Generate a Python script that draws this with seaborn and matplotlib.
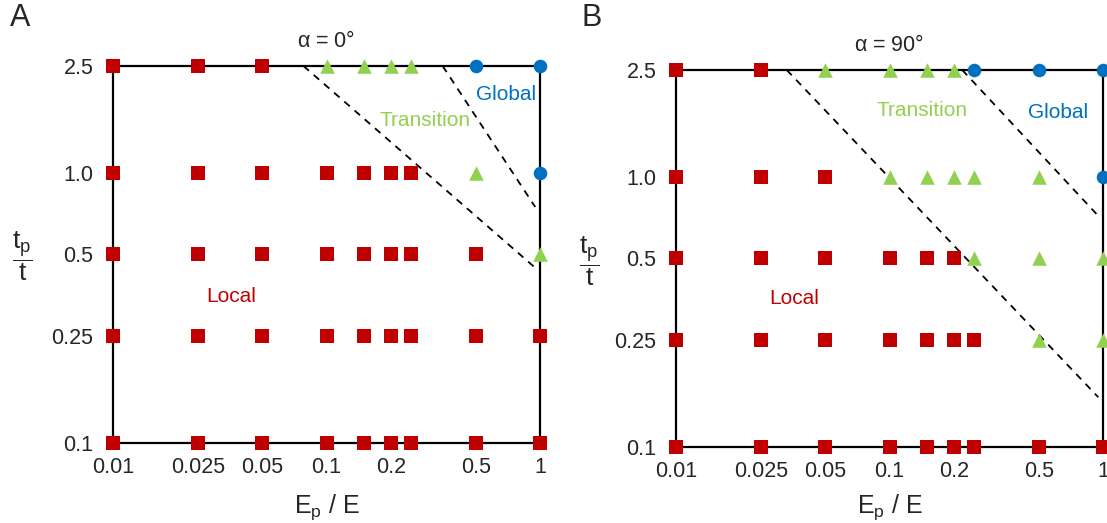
import matplotlib
matplotlib.use('Agg')
import pandas as pd
import matplotlib.pyplot as plt
import seaborn as sns

# Dados
ep_ratio = [0.01, 0.025, 0.05, 0.1, 0.15, 0.2, 0.25, 0.5, 1]
tp_ratio = [2.5, 1.0, 0.5, 0.25, 0.1]
x_ticks = [0.01, 0.025, 0.05, 0.1, 0.2, 0.5, 1]
x_tick_labels = ['0.01', '0.025', '0.05', '0.1', '0.2', '0.5', '1']
y_ticks = [0.1, 0.25, 0.5, 1.0, 2.5]
y_tick_labels = ['0.1', '0.25', '0.5', '1.0', '2.5']

# L = Local, T = Transition, G = Global (uma linha por tp_ratio)
regime_a = ['LLLTTTTGG',
            'LLLLLLLTG',
            'LLLLLLLLT',
            'LLLLLLLLL',
            'LLLLLLLLL']
regime_b = ['LLTTTTGGG',
            'LLLTTTTTG',
            'LLLLLLTTT',
            'LLLLLLLTT',
            'LLLLLLLLL']

# Fronteiras tracejadas (x, y)
bound_a1_x = [0.078, 0.97]
bound_a1_y = [2.5, 0.44]
bound_a2_x = [0.35, 0.95]
bound_a2_y = [2.5, 0.75]
bound_b1_x = [0.033, 0.95]
bound_b1_y = [2.5, 0.153]
bound_b2_x = [0.219, 0.96]
bound_b2_y = [2.5, 0.713]

names = {'L': 'Local', 'T': 'Transition', 'G': 'Global'}
colors = {'Local': '#C00000', 'Transition': '#92D050', 'Global': '#0070C0'}
markers = {'Local': 's', 'Transition': '^', 'Global': 'o'}
sizes = {'Local': 90, 'Transition': 110, 'Global': 95}

W, H = 1107, 523


def make_df(regime):
    rows = []
    for yi, row in zip(tp_ratio, regime):
        for xi, r in zip(ep_ratio, row):
            rows.append({'ep': xi, 'tp': yi, 'regime': names[r]})
    return pd.DataFrame(rows)


sns.set_style('white')
plt.rcParams['font.family'] = ['Liberation Sans', 'DejaVu Sans']
plt.rcParams['mathtext.fontset'] = 'custom'
plt.rcParams['mathtext.rm'] = 'Liberation Sans'
plt.rcParams['mathtext.it'] = 'Liberation Sans'
plt.rcParams['mathtext.default'] = 'regular'

fig = plt.figure(figsize=(W / 100, H / 100), dpi=100)
ax_a = fig.add_axes([0.1021, 0.153, 0.3857, 0.7208])
ax_b = fig.add_axes([0.6107, 0.1453, 0.3857, 0.7209])

# posicoes dos rotulos em pixels da figura
panels = [
    (ax_a, regime_a, [(bound_a1_x, bound_a1_y), (bound_a2_x, bound_a2_y)], r'$\alpha$ = 0°', 'A', 20,
     {'Global': (506, 95), 'Transition': (425, 121), 'Local': (231, 296)}, 22, 256, 10.5),
    (ax_b, regime_b, [(bound_b1_x, bound_b1_y), (bound_b2_x, bound_b2_y)], r'$\alpha$ = 90°', 'B', 592,
     {'Global': (1058, 112), 'Transition': (922, 110), 'Local': (794, 298)}, 589, 261, 7.5),
]

for ax, regime, bounds, title, letter, lx, label_pos, fx, fy, lpad in panels:
    df = make_df(regime)
    for reg in ['Local', 'Transition', 'Global']:
        sub = df[df['regime'] == reg]
        sns.scatterplot(data=sub, x='ep', y='tp', color=colors[reg], marker=markers[reg],
                        s=sizes[reg], linewidth=0, ax=ax, clip_on=False, zorder=4, legend=False)
    for bx, by in bounds:
        ax.plot(bx, by, color='black', linestyle=(0, (4, 3.5)), linewidth=1.3, zorder=2)

    ax.set_xscale('log')
    ax.set_yscale('log')
    ax.set_xlim(0.01, 1)
    ax.set_ylim(0.1, 2.5)
    ax.minorticks_off()
    ax.set_xticks(x_ticks)
    ax.set_xticklabels(x_tick_labels)
    ax.set_yticks(y_ticks)
    ax.set_yticklabels(y_tick_labels)
    ax.tick_params(axis='both', length=0, labelsize=15.5)
    ax.tick_params(axis='x', pad=10)
    ax.tick_params(axis='y', pad=14)
    for sp in ax.spines.values():
        sp.set_visible(True)
        sp.set_color('black')
        sp.set_linewidth(1.6)
        sp.set_zorder(3)
    ax.set_xlabel(r'$E_p$ / E', fontsize=18, labelpad=lpad)
    ax.set_ylabel('')
    ax.set_title(title, fontsize=15.5, pad=14)

    for reg, (tx, ty) in label_pos.items():
        fig.text(tx / W, 1 - ty / H, reg, color=colors[reg], fontsize=15, ha='center', va='center')

    fig.text(lx / W, 1 - 18 / H, letter, fontsize=22, ha='center', va='center')
    fig.text(fx / W, 1 - fy / H, r'$\dfrac{t_p}{t}$', fontsize=19, ha='center', va='center')

fig.savefig('out.png', dpi=100)
plt.close(fig)
